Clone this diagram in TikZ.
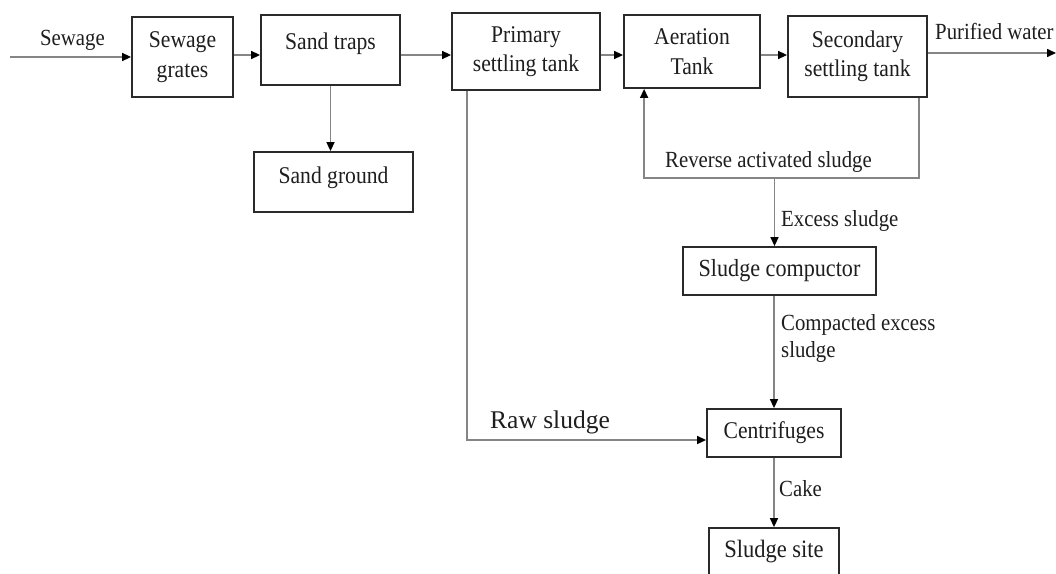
\documentclass[tikz,border=0pt]{standalone}
\usepackage{fontspec}
\setmainfont{Liberation Serif}
\newfontfamily\narrowserif{Liberation Serif}[FakeStretch=0.9]
\usetikzlibrary{arrows.meta,calc}
\definecolor{boxc}{HTML}{2A2A2A}
\definecolor{linec}{HTML}{858585}
\definecolor{txt}{HTML}{1E1E1E}
\begin{document}
\begin{tikzpicture}[x=1pt,y=-1pt,
  box/.style={draw=boxc, line width=1.8pt, align=center, inner sep=0pt, text=txt, fill=white},
  flow/.style={draw=linec, line width=1.5pt, -{Triangle[length=9pt,width=8pt,color=black]}},
  lbl/.style={inner sep=0pt, text=txt},
  fA/.style={font=\narrowserif\fontsize{24}{29.5}\selectfont},
  fL/.style={font=\narrowserif\fontsize{23.1}{27}\selectfont}]
\useasboundingbox[fill=white] (0,0) rectangle (1056,573);

% boxes
\node[box,fA,minimum width=101pt,minimum height=80pt] (sg) at (182.5,57) {Sewage\\grates};
\node[box,fA,minimum width=139pt,minimum height=70pt,text height=16.4pt,text depth=18.4pt] (st) at (330.5,50) {Sand traps};
\node[box,fA,minimum width=148pt,minimum height=77pt] (pst) at (526,51.5) {Primary\\settling tank};
\node[box,fA,minimum width=136pt,minimum height=73pt] (aer) at (692,51.5) {Aeration\\Tank};
\node[box,fA,minimum width=139pt,minimum height=81pt] (sec) at (857.5,56.5) {Secondary\\settling tank};
\node[box,fA,minimum width=159pt,minimum height=60pt,text height=16.4pt,text depth=14.4pt] (sgd) at (333.5,182) {Sand ground};
\node[box,fA,font=\narrowserif\fontsize{24.6}{29}\selectfont,minimum width=193pt,minimum height=48pt] (comp) at (779.5,271) {Sludge compuctor};
\node[box,fA,minimum width=134pt,minimum height=48pt] (cent) at (774,433) {Centrifuges};
\node[box,font=\narrowserif\fontsize{25}{29}\selectfont,minimum width=130pt,minimum height=48pt] (site) at (774,552) {Sludge site};

% coordinates
\coordinate (in) at (10,57);
\coordinate (out) at (1056,53);
\coordinate (ry) at (0,178);
\coordinate (rr) at ([xshift=-9pt]sec.south east);
\coordinate (rl) at ([xshift=21pt]aer.south west);
\coordinate (ex) at ([xshift=-5pt]comp.north);
\coordinate (rs) at ([xshift=16pt]pst.south west);

% connectors
\draw[flow] (in) -- (sg.west);
\draw[flow] ([yshift=2pt]sg.east) -- ([yshift=2pt]sg.east -| st.west);
\draw[flow] ([yshift=-5pt]st.east) -- ([yshift=-5pt]st.east -| pst.west);
\draw[flow] ([yshift=-3.5pt]pst.east) -- ([yshift=-3.5pt]pst.east -| aer.west);
\draw[flow] ([yshift=-3.5pt]aer.east) -- ([yshift=-3.5pt]aer.east -| sec.west);
\draw[flow] ([yshift=3.5pt]sec.east) -- (out);
\draw[flow] (st.south) -- (st.south |- sgd.north);
\draw[flow] (rr) |- (rl |- ry) -- (rl);
\draw[flow] (ex |- ry) -- (ex);
\draw[flow] (cent.north |- comp.south) -- (cent.north);
\draw[flow] (rs) |- ([yshift=-7pt]cent.west);
\draw[flow] (cent.south) -- (site.north);

% labels
\node[lbl,fL] (lsew) at (72.5,40) {Sewage};
\node[lbl,fL,anchor=west] (lpur) at (935,31) {Purified water};
\node[lbl,fL] (lrev) at (768.5,162) {Reverse activated sludge};
\node[lbl,fL,anchor=west] (lexc) at (781,221) {Excess sludge};
\node[lbl,fL,anchor=west,align=left] (lcomp) at (781,338.5) {Compacted excess\\sludge};
\node[lbl,font=\fontsize{25.5}{30}\selectfont,anchor=west] (lraw) at (490,422) {Raw sludge};
\node[lbl,fL,anchor=west] (lcake) at (779,489) {Cake};
\end{tikzpicture}
\end{document}
